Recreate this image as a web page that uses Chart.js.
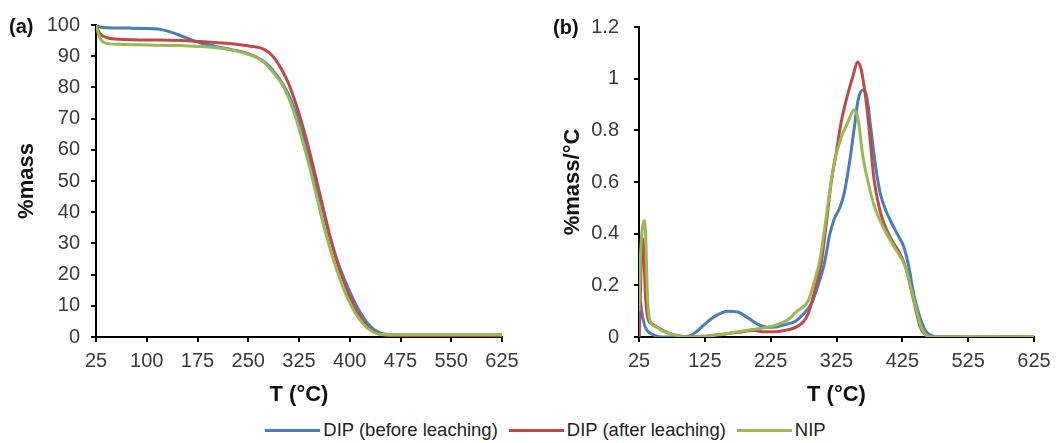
<!DOCTYPE html>
<html>
<head>
<meta charset="utf-8">
<script src="https://cdn.jsdelivr.net/npm/chart.js@4.4.1/dist/chart.umd.min.js"></script>
<style>
  body { margin: 0; background: #fff; width: 1063px; height: 443px; position: relative; overflow: hidden; font-family: "Liberation Sans", Arial, sans-serif; }
  .box { position: absolute; top: 0; height: 410px; }
  #boxA { left: 0; width: 530px; }
  #boxB { left: 530px; width: 533px; }
  .tag { position: absolute; font-weight: bold; font-size: 20px; color: #111; line-height: 24px; }
  #legend { position: absolute; top: 419px; left: 0; width: 1091px; display: flex; justify-content: center; font-size: 18.5px; line-height: 22px; color: #222; }
  #legend span.item { display: flex; align-items: center; margin-right: 11px; }
  #legend span.item:last-child { margin-right: 0; }
  #legend span.swatch { display: inline-block; width: 55px; height: 3px; margin-right: 3px; }
</style>
</head>
<body>
<div class="box" id="boxA"><canvas id="tga"></canvas></div>
<div class="box" id="boxB"><canvas id="dtg"></canvas></div>
<div class="tag" style="left:9px; top:14px;">(a)</div>
<div class="tag" style="left:553px; top:15px;">(b)</div>
<div id="legend"></div>
<script>
const seriesNames = ["DIP (before leaching)", "DIP (after leaching)", "NIP"];
const seriesColors = ["#4a7ebb", "#be4b48", "#98b954"];

// (a) TGA, %mass vs T
const tgaTicksX = [25, 100, 175, 250, 325, 400, 475, 550, 625];
const tgaTicksY = [0, 10, 20, 30, 40, 50, 60, 70, 80, 90, 100];
const tgaBlueT = [25, 30, 40, 75, 100, 120, 135, 150, 165, 180, 200, 225, 250, 270, 280, 290, 300, 310, 320, 330, 340, 350, 360, 370, 380, 390, 400, 410, 420, 430, 440, 450, 475, 550, 625];
const tgaBlue = [100, 99.4, 99.1, 99, 98.9, 98.6, 97.8, 96.6, 95.3, 94.2, 93.2, 92.1, 90.8, 88.8, 87, 84.5, 81.5, 77.5, 72, 65, 57.5, 49, 41, 32.5, 25.5, 19.5, 14.5, 10, 6.3, 3.5, 1.8, 1, 0.8, 0.7, 0.6];
const tgaRedT = [25, 28, 33, 40, 60, 100, 150, 200, 225, 250, 260, 270, 280, 290, 300, 310, 320, 330, 340, 350, 360, 370, 380, 390, 400, 410, 420, 430, 440, 450, 475, 625];
const tgaRed = [100, 98.3, 96.8, 96, 95.4, 95.2, 95, 94.4, 94, 93.3, 93, 92.5, 91.3, 89, 85.5, 81, 75, 68, 60, 51, 42, 33, 25, 18.5, 13, 8.5, 5, 2.6, 1.2, 0.6, 0.4, 0.3];
const tgaGreenT = [25, 28, 33, 40, 60, 100, 150, 200, 225, 250, 270, 280, 290, 300, 310, 320, 330, 340, 350, 360, 370, 380, 390, 400, 410, 420, 430, 440, 450, 500, 625];
const tgaGreen = [100, 97.5, 95, 94.2, 93.8, 93.6, 93.4, 92.8, 92, 90.6, 88.6, 86.5, 84, 81, 76.5, 70.5, 63, 55, 46, 37, 29, 22, 16, 11, 7, 4.2, 2.2, 1.1, 0.8, 0.8, 0.8];

// (b) DTG, %mass/°C vs T
const dtgTicksX = [25, 125, 225, 325, 425, 525, 625];
const dtgTicksY = [0, 0.2, 0.4, 0.6, 0.8, 1, 1.2];
const dtgBlueT = [25, 27, 29, 32, 36, 42, 50, 60, 80, 100, 112, 125, 140, 160, 175, 190, 205, 220, 235, 250, 262, 275, 287, 297, 307, 315, 322, 330, 337, 345, 352, 358, 365, 371, 377, 385, 392, 400, 407, 417, 427, 435, 442, 450, 457, 463, 470, 480, 525, 625];
const dtgBlue = [0, 0.14, 0.1, 0.06, 0.03, 0.015, 0.005, 0, 0, 0.003, 0.02, 0.05, 0.08, 0.1, 0.097, 0.075, 0.05, 0.038, 0.04, 0.05, 0.06, 0.09, 0.13, 0.2, 0.29, 0.4, 0.46, 0.5, 0.56, 0.68, 0.81, 0.92, 0.956, 0.93, 0.81, 0.65, 0.55, 0.49, 0.45, 0.4, 0.35, 0.27, 0.17, 0.09, 0.04, 0.015, 0.005, 0, 0.002, 0];
const dtgRedT = [25, 26, 28, 30, 32, 35, 40, 45, 55, 70, 85, 100, 125, 150, 175, 200, 215, 230, 245, 255, 265, 275, 282, 292, 302, 310, 317, 325, 332, 340, 350, 357, 362, 367, 372, 377, 382, 390, 397, 410, 422, 430, 437, 445, 452, 460, 470, 525, 625];
const dtgRed = [0, 0.06, 0.25, 0.38, 0.35, 0.15, 0.06, 0.05, 0.035, 0.015, 0.005, 0, 0.003, 0.01, 0.018, 0.025, 0.02, 0.02, 0.025, 0.03, 0.04, 0.06, 0.09, 0.18, 0.29, 0.45, 0.6, 0.72, 0.83, 0.92, 1.01, 1.065, 1.04, 0.97, 0.87, 0.74, 0.61, 0.5, 0.44, 0.37, 0.32, 0.27, 0.2, 0.11, 0.04, 0.008, 0, 0.002, 0];
const dtgGreenT = [25, 27, 30, 33, 35, 38, 42, 50, 60, 75, 100, 125, 150, 175, 200, 225, 250, 265, 282, 292, 300, 307, 315, 322, 332, 342, 352, 358, 365, 373, 382, 397, 410, 422, 430, 437, 445, 452, 460, 470, 525, 625];
const dtgGreen = [0.1, 0.3, 0.42, 0.45, 0.4, 0.15, 0.06, 0.04, 0.025, 0.01, 0, 0.002, 0.01, 0.02, 0.03, 0.04, 0.065, 0.1, 0.14, 0.22, 0.3, 0.42, 0.57, 0.68, 0.77, 0.83, 0.88, 0.84, 0.7, 0.6, 0.51, 0.42, 0.36, 0.31, 0.27, 0.2, 0.12, 0.05, 0.01, 0, 0.002, 0];

const fam = "'Liberation Sans', Arial, sans-serif";
const tickFont = { family: fam, size: 20 };
const titleFont = { family: fam, size: 22, weight: "bold" };

function pts(xs, ys) {
    return xs.map((x, i) => ({ x, y: ys[i] }));
}

function makeSets(lists) {
    const order = [2, 1, 0];
    return lists.map((l, i) => ({
        label: seriesNames[i],
        data: pts(l[0], l[1]),
        borderColor: seriesColors[i],
        borderWidth: 3,
        pointRadius: 0,
        fill: false,
        cubicInterpolationMode: "monotone",
        order: order[i],
    }));
}

function axis(min, max, ticks, title, pad, extra) {
    return Object.assign({
        type: "linear",
        min,
        max,
        afterBuildTicks: (s) => { s.ticks = ticks.map((v) => ({ value: v })); },
        ticks: {
            color: "#3a3a3a",
            font: tickFont,
            padding: pad,
            autoSkip: false,
            maxRotation: 0,
            callback: (v) => String(v),
        },
        grid: { display: true, drawOnChartArea: false, tickLength: 5, color: "#000", lineWidth: 2 },
        border: { display: true, color: "#000", width: 2 },
        title: { display: true, text: title, color: "#111", font: titleFont },
    }, extra);
}

function makeChart(id, sets, xTicks, yMin, yMax, yTicks, yTitle, yWidth, yTitlePad, yTickPad, padRight) {
    const x = axis(25, 625, xTicks, "T (°C)", 7, { afterFit: (s) => { s.height = 73; } });
    x.title.padding = { top: 0, bottom: 2 };
    const y = axis(yMin, yMax, yTicks, yTitle, yTickPad, { afterFit: (s) => { s.width = yWidth; } });
    y.title.padding = { top: yTitlePad, bottom: 0 };
    new Chart(document.getElementById(id), {
        type: "line",
        data: { datasets: sets },
        options: {
            responsive: true,
            maintainAspectRatio: false,
            animation: false,
            layout: { padding: { left: 0, right: padRight, top: 25, bottom: 0 } },
            plugins: { legend: { display: false }, tooltip: { enabled: false } },
            scales: { x, y },
        },
    });
}

makeChart("tga", makeSets([[tgaBlueT, tgaBlue], [tgaRedT, tgaRed], [tgaGreenT, tgaGreen]]),
    tgaTicksX, 0, 100, tgaTicksY, "%mass", 96, 14, 11, 28);
makeChart("dtg", makeSets([[dtgBlueT, dtgBlue], [dtgRedT, dtgRed], [dtgGreenT, dtgGreen]]),
    dtgTicksX, 0, 1.2, dtgTicksY, "%mass/°C", 109, 30, 15, 29);

const legend = document.getElementById("legend");
seriesNames.forEach((name, i) => {
    const item = document.createElement("span");
    item.className = "item";
    const sw = document.createElement("span");
    sw.className = "swatch";
    sw.style.background = seriesColors[i];
    item.appendChild(sw);
    item.appendChild(document.createTextNode(name));
    legend.appendChild(item);
});
</script>
</body>
</html>
